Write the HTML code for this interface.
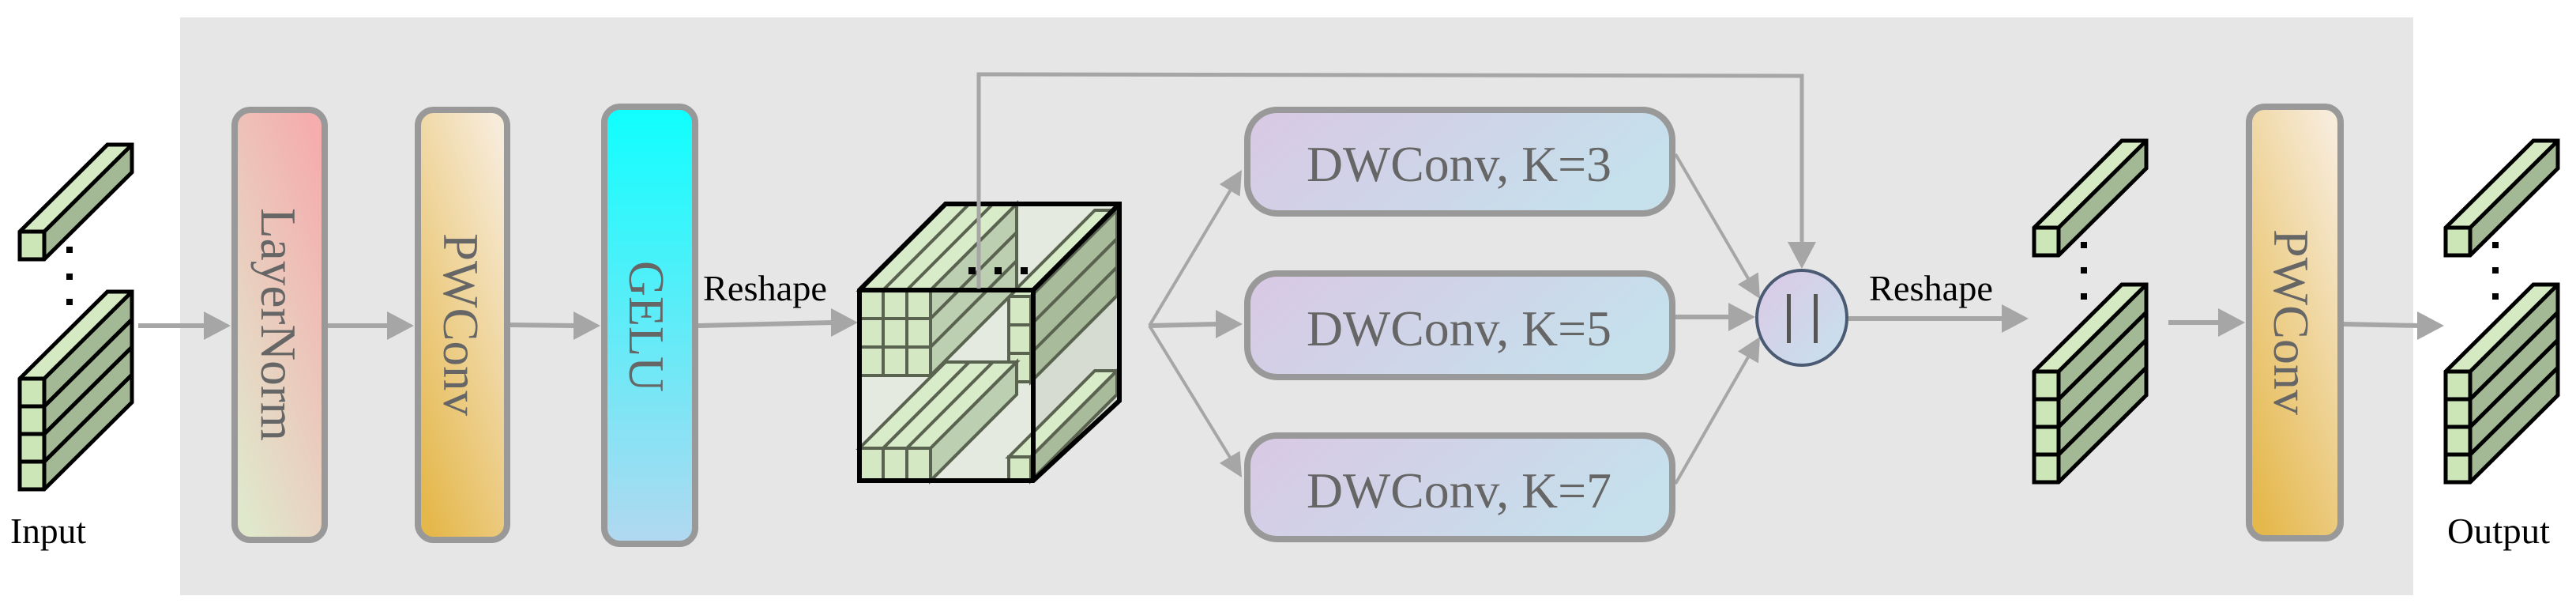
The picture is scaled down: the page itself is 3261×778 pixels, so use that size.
<!DOCTYPE html>
<html><head><meta charset="utf-8"><style>html,body{margin:0;padding:0;background:#fff}svg{display:block}</style></head>
<body>
<svg width="3261" height="778" viewBox="0 0 3261 778" xmlns="http://www.w3.org/2000/svg" font-family="'Liberation Serif', serif">
<defs>
<linearGradient id="gLN" x1="0.8" y1="0" x2="0.2" y2="1"><stop offset="0" stop-color="#f5adad"/><stop offset="1" stop-color="#e0e8cc"/></linearGradient>
<linearGradient id="gPW" x1="0.8" y1="0" x2="0.2" y2="1"><stop offset="0" stop-color="#f7ebd9"/><stop offset="1" stop-color="#e5b84c"/></linearGradient>
<linearGradient id="gGE" x1="0" y1="0" x2="0" y2="1"><stop offset="0" stop-color="#0effff"/><stop offset="1" stop-color="#b2d8f0"/></linearGradient>
<linearGradient id="gDW" x1="0" y1="0" x2="1" y2="0.3"><stop offset="0" stop-color="#d9c8e4"/><stop offset="1" stop-color="#c6e0ec"/></linearGradient>
<linearGradient id="gCI" x1="0" y1="0" x2="1" y2="1"><stop offset="0" stop-color="#dcc8e6"/><stop offset="1" stop-color="#c6e2ee"/></linearGradient>
<g id="bar">
<polygon points="0,0 111,-110 142,-110 31,0" fill="#d5eac3"/>
<polygon points="31,0 142,-110 142,-75 31,35" fill="#a3b995"/>
<rect x="0" y="0" width="31" height="35" fill="#cde6b8"/>
<polygon points="0,0 111,-110 142,-110 142,-75 31,35 0,35" fill="none" stroke="#000" stroke-width="5"/>
<polyline points="0,0 31,0 31,35" fill="none" stroke="#000" stroke-width="5"/>
<line x1="31" y1="0" x2="142" y2="-110" stroke="#000" stroke-width="5"/>
</g>
</defs>

<rect x="228" y="22" width="2827" height="731" fill="#e6e6e6"/>

<!-- input -->
<use href="#bar" x="25" y="293"/>
<use href="#bar" x="25" y="584"/>
<use href="#bar" x="25" y="549"/>
<use href="#bar" x="25" y="514"/>
<use href="#bar" x="25" y="479"/>
<rect x="84" y="312" width="8" height="8"/><rect x="84" y="346" width="8" height="8"/><rect x="84" y="378" width="8" height="8"/>
<text x="13" y="687" font-size="46" textLength="96" lengthAdjust="spacingAndGlyphs">Input</text>

<!-- arrows -->
<g stroke="#a6a6a6" stroke-width="6" fill="none">
<line x1="175" y1="412" x2="262" y2="412"/>
<line x1="415" y1="412" x2="494" y2="412"/>
<line x1="646" y1="411" x2="730" y2="412"/>
<line x1="884" y1="412" x2="1056" y2="408"/>
<line x1="1455" y1="412" x2="1543" y2="410"/>
<line x1="2121" y1="401" x2="2192" y2="401"/>
<line x1="2340" y1="403" x2="2538" y2="403"/>
<line x1="2745" y1="408" x2="2812" y2="408"/>
<line x1="2967" y1="410" x2="3064" y2="412"/>
</g>
<g stroke="#a6a6a6" stroke-width="4" fill="none">
<line x1="1455" y1="412" x2="1558" y2="240"/>
<line x1="1455" y1="412" x2="1558" y2="580"/>
<line x1="2121" y1="195" x2="2214" y2="354"/>
<line x1="2121" y1="612" x2="2214" y2="450"/>
<polyline points="1239,365 1239,94 2281,96 2281,308" stroke-width="5"/>
</g>
<g fill="#a6a6a6">
<polygon points="258,394 292,412 258,430"/>
<polygon points="490,394 524,412 490,430"/>
<polygon points="726,394 760,412 726,430"/>
<polygon points="1052,390 1086,408 1052,426"/>
<polygon points="1539,392 1573,410 1539,428"/>
<polygon points="2188,383 2222,401 2188,419"/>
<polygon points="2534,385 2568,403 2534,421"/>
<polygon points="2808,390 2842,408 2808,426"/>
<polygon points="3060,394 3094,412 3060,430"/>
<polygon points="1543.8,233.1 1572,215 1569.6,248.5"/>
<polygon points="1569.6,570.5 1572,604 1543.8,585.9"/>
<polygon points="2225.8,344.5 2228,378 2200,359.7"/>
<polygon points="2226,459.5 2228,426 2200,444.5"/>
<polygon points="2263,306 2281,340 2299,306"/>
</g>

<!-- boxes -->
<rect x="297" y="139" width="114" height="544" rx="20" fill="url(#gLN)" stroke="#999" stroke-width="8"/>
<rect x="529" y="139" width="113" height="544" rx="20" fill="url(#gPW)" stroke="#999" stroke-width="8"/>
<rect x="765" y="135" width="115" height="553" rx="20" fill="url(#gGE)" stroke="#999" stroke-width="8"/>
<rect x="2847" y="135" width="116" height="546" rx="20" fill="url(#gPW)" stroke="#999" stroke-width="8"/>
<g fill="#666" font-size="64">
<text transform="translate(331,263) rotate(90)" textLength="295" lengthAdjust="spacingAndGlyphs">LayerNorm</text>
<text transform="translate(562,295) rotate(90)" textLength="231" lengthAdjust="spacingAndGlyphs">PWConv</text>
<text transform="translate(797,330) rotate(90)" textLength="166" lengthAdjust="spacingAndGlyphs">GELU</text>
<text transform="translate(2879,290) rotate(90)" textLength="235" lengthAdjust="spacingAndGlyphs">PWConv</text>
</g>
<text x="890" y="380" font-size="46" textLength="157" lengthAdjust="spacingAndGlyphs">Reshape</text>
<text x="2366" y="380" font-size="46" textLength="157" lengthAdjust="spacingAndGlyphs">Reshape</text>

<rect x="1579" y="139" width="538" height="131" rx="38" fill="url(#gDW)" stroke="#999" stroke-width="8"/>
<rect x="1579" y="346" width="538" height="131" rx="38" fill="url(#gDW)" stroke="#999" stroke-width="8"/>
<rect x="1579" y="551" width="538" height="131" rx="38" fill="url(#gDW)" stroke="#999" stroke-width="8"/>
<g fill="#666" font-size="64">
<text x="1654" y="229" textLength="386" lengthAdjust="spacingAndGlyphs">DWConv, K=3</text>
<text x="1654" y="437" textLength="386" lengthAdjust="spacingAndGlyphs">DWConv, K=5</text>
<text x="1654" y="642" textLength="386" lengthAdjust="spacingAndGlyphs">DWConv, K=7</text>
</g>

<!-- concat circle -->
<ellipse cx="2281" cy="402" rx="57" ry="60" fill="url(#gCI)" stroke="#4a5a72" stroke-width="4"/>
<rect x="2262" y="372" width="5" height="62" fill="#555"/>
<rect x="2296" y="372" width="5" height="62" fill="#555"/>

<!-- central cube -->
<polygon points="1088,367 1197,258 1417,258 1417,507 1308,608 1088,608" fill="#e5eae0"/>
<polygon points="1308,367 1417,258 1417,507 1308,608" fill="#d6dcd2"/>
<g stroke="#5a6350" stroke-width="4" stroke-linejoin="miter">
<polygon points="1277,578 1386,469 1414,469 1305,578" fill="#d9ecca"/>
<polygon points="1305,578 1414,469 1414,499 1305,608" fill="#a8bb9a"/>
<rect x="1277" y="578" width="28" height="30" fill="#d5e8c4"/>
<polygon points="1277,375 1386,266 1414,266 1305,375" fill="#d9ecca"/>
<polygon points="1305,375 1414,266 1414,302 1305,411" fill="#a8bb9a"/>
<polygon points="1305,411 1414,302 1414,338 1305,447" fill="#a8bb9a"/>
<polygon points="1305,447 1414,338 1414,374 1305,483" fill="#a8bb9a"/>
<rect x="1277" y="375" width="28" height="36" fill="#d5e8c4"/>
<rect x="1277" y="411" width="28" height="36" fill="#d5e8c4"/>
<rect x="1277" y="447" width="28" height="36" fill="#d5e8c4"/>
<polygon points="1088,567 1197,458 1227,458 1118,567" fill="#d9ecca"/>
<polygon points="1118,567 1227,458 1257,458 1148,567" fill="#d9ecca"/>
<polygon points="1148,567 1257,458 1287,458 1178,567" fill="#d9ecca"/>
<polygon points="1178,567 1287,458 1287,499 1178,608" fill="#bccfb0"/>
<rect x="1088" y="567" width="30" height="41" fill="#d5e8c4"/>
<rect x="1118" y="567" width="30" height="41" fill="#d5e8c4"/>
<rect x="1148" y="567" width="30" height="41" fill="#d5e8c4"/>
<polygon points="1088,367 1197,258 1227,258 1118,367" fill="#d9ecca"/>
<polygon points="1118,367 1227,258 1257,258 1148,367" fill="#d9ecca"/>
<polygon points="1148,367 1257,258 1287,258 1178,367" fill="#d9ecca"/>
<polygon points="1178,367 1287,258 1287,294 1178,403" fill="#bccfb0"/>
<polygon points="1178,403 1287,294 1287,330 1178,439" fill="#bccfb0"/>
<polygon points="1178,439 1287,330 1287,366 1178,475" fill="#bccfb0"/>
<g fill="#d5e8c4">
<rect x="1088" y="367" width="30" height="36"/><rect x="1118" y="367" width="30" height="36"/><rect x="1148" y="367" width="30" height="36"/>
<rect x="1088" y="403" width="30" height="36"/><rect x="1118" y="403" width="30" height="36"/><rect x="1148" y="403" width="30" height="36"/>
<rect x="1088" y="439" width="30" height="36"/><rect x="1118" y="439" width="30" height="36"/><rect x="1148" y="439" width="30" height="36"/>
</g>
</g>
<g stroke="#000" stroke-width="6" fill="none" stroke-linejoin="miter">
<polygon points="1088,367 1197,258 1417,258 1417,507 1308,608 1088,608"/>
<polyline points="1088,367 1308,367 1417,258"/>
<line x1="1308" y1="367" x2="1308" y2="608"/>
</g>
<rect x="1226" y="338" width="9" height="9"/><rect x="1259" y="338" width="9" height="9"/><rect x="1292" y="338" width="9" height="9"/>
<line x1="1239" y1="365" x2="1239" y2="250" stroke="#a6a6a6" stroke-width="5"/>

<!-- middle stack -->
<use href="#bar" x="2575" y="288"/>
<use href="#bar" x="2575" y="575"/>
<use href="#bar" x="2575" y="540"/>
<use href="#bar" x="2575" y="505"/>
<use href="#bar" x="2575" y="470"/>
<rect x="2634" y="306" width="8" height="8"/><rect x="2634" y="338" width="8" height="8"/><rect x="2634" y="371" width="8" height="8"/>

<!-- output -->
<use href="#bar" x="3096" y="288"/>
<use href="#bar" x="3096" y="575"/>
<use href="#bar" x="3096" y="540"/>
<use href="#bar" x="3096" y="505"/>
<use href="#bar" x="3096" y="470"/>
<rect x="3155" y="306" width="8" height="8"/><rect x="3155" y="338" width="8" height="8"/><rect x="3155" y="371" width="8" height="8"/>
<text x="3098" y="687" font-size="46" textLength="130" lengthAdjust="spacingAndGlyphs">Output</text>
</svg>
</body></html>
